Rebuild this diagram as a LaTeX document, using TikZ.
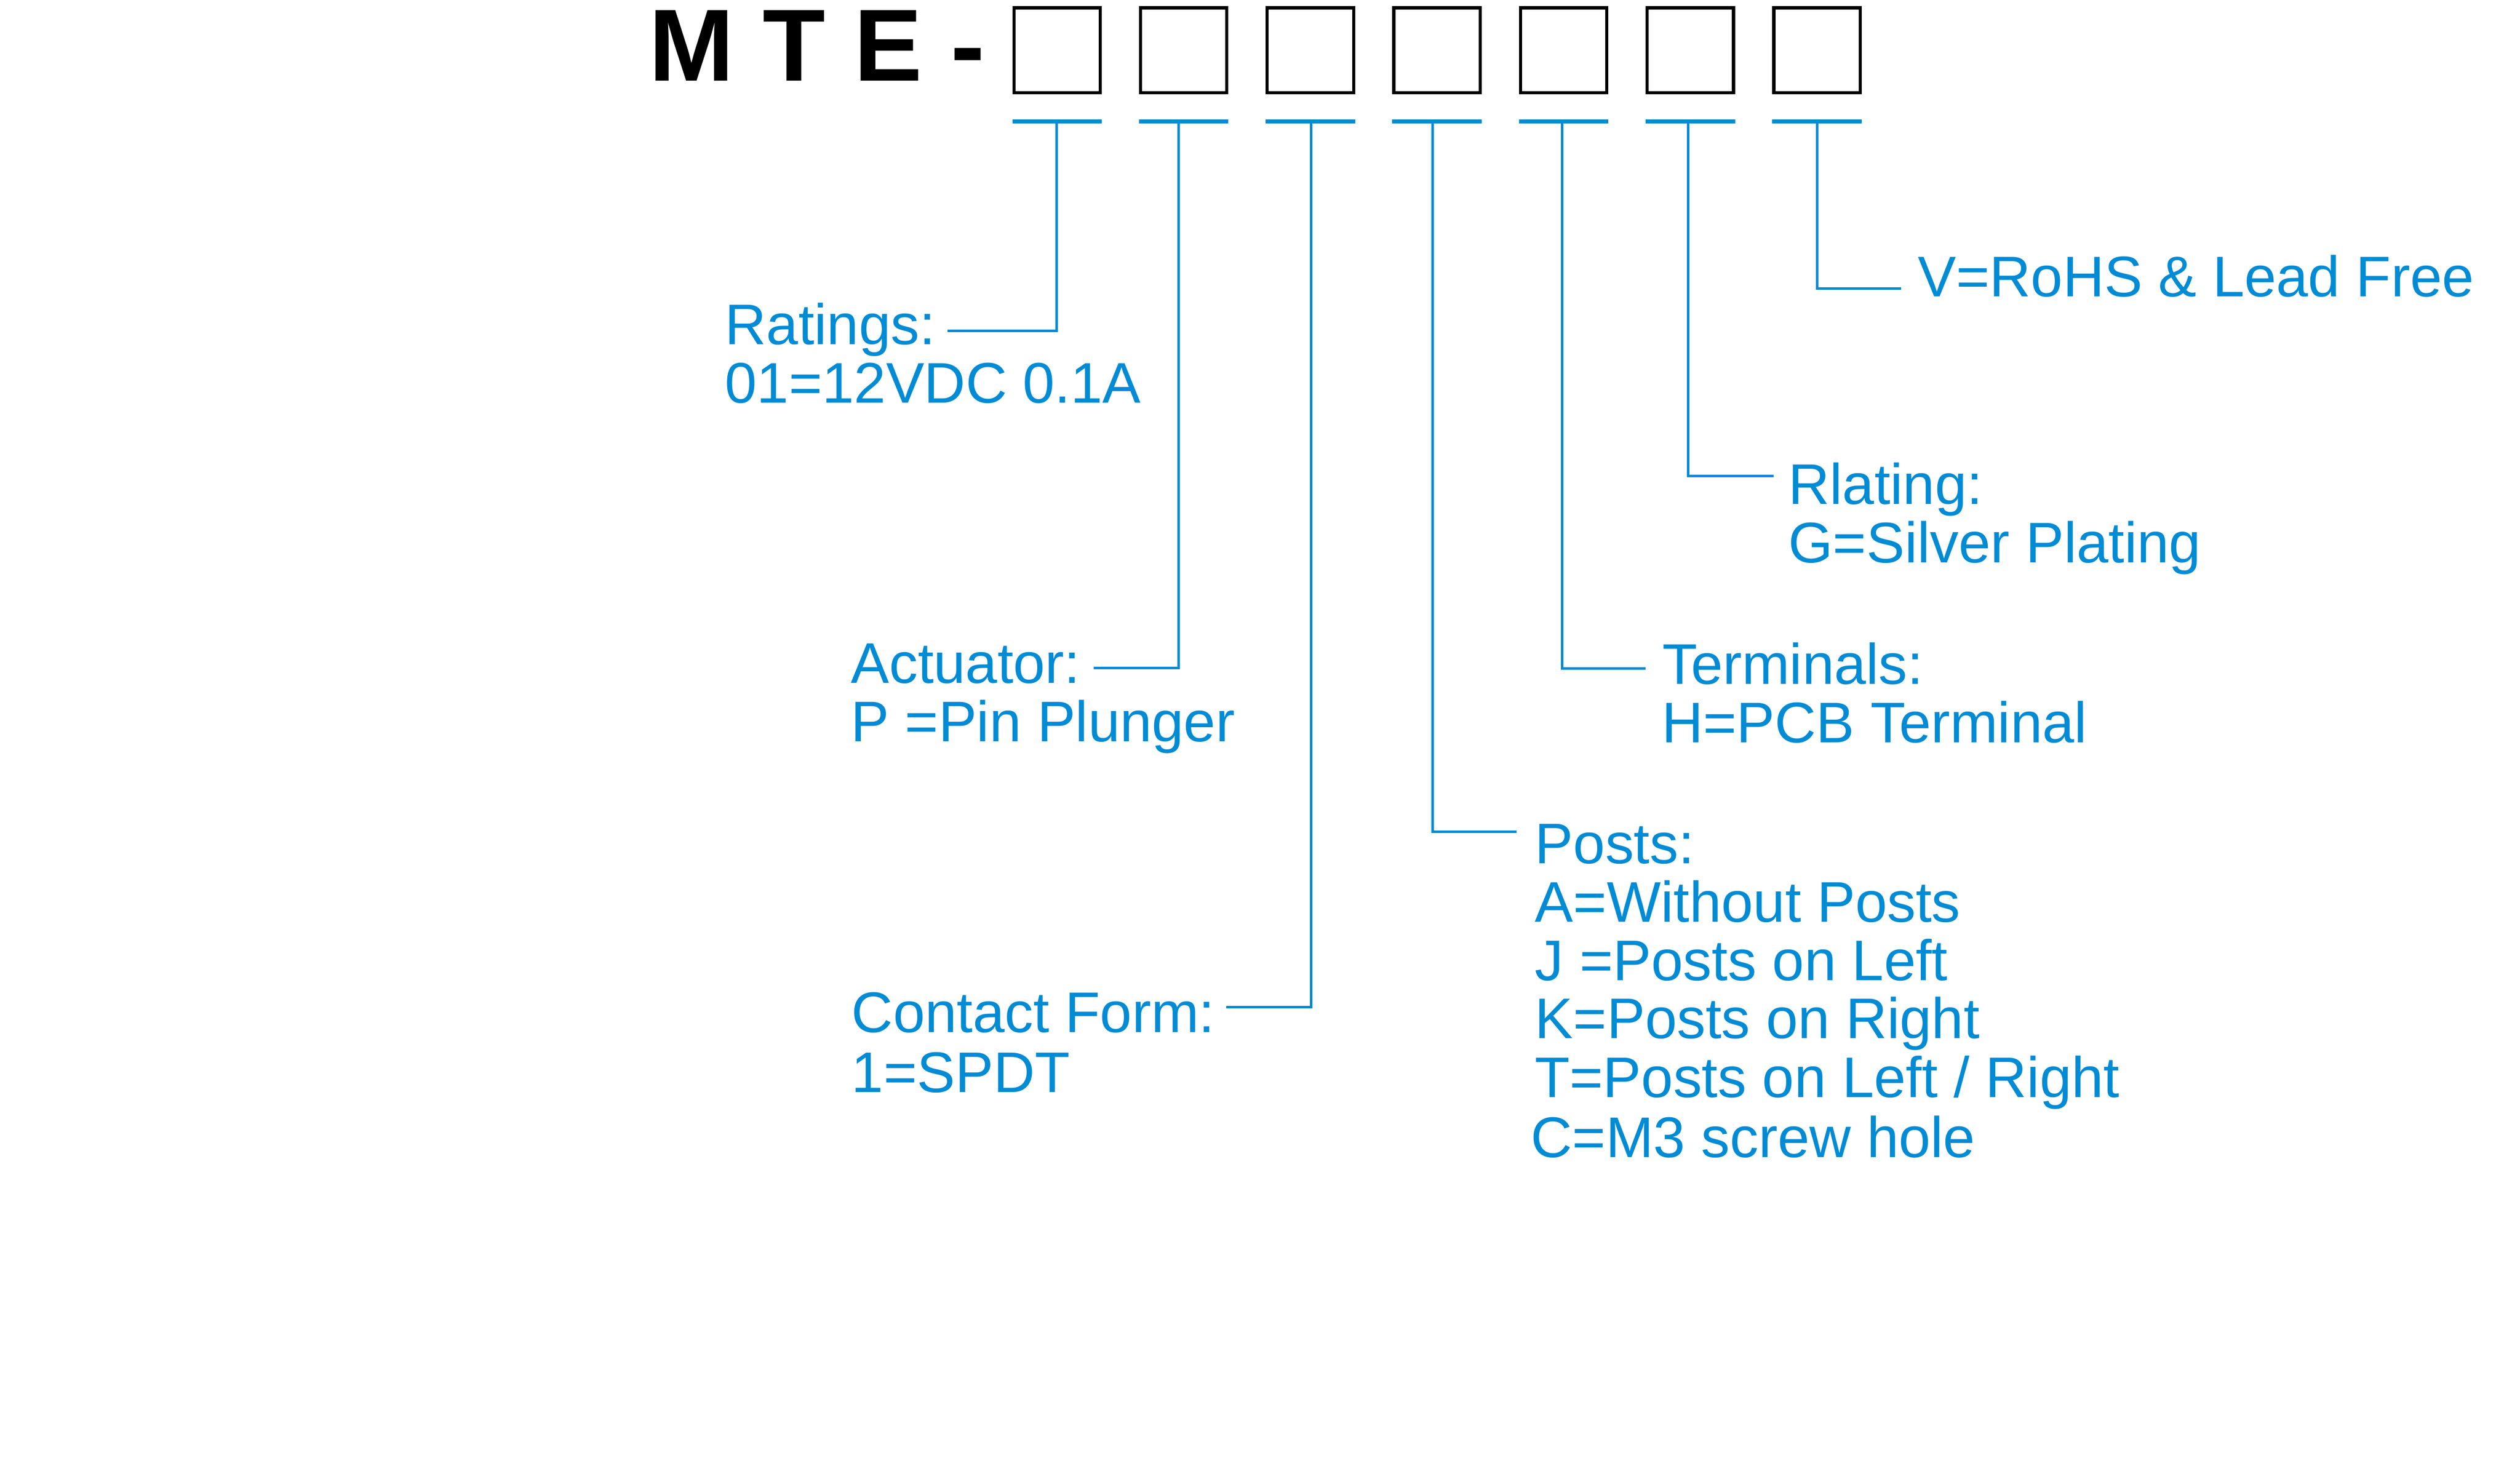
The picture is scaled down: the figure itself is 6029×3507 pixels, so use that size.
\documentclass[tikz,border=0pt]{standalone}
\usepackage{fontspec}
\setmainfont{Liberation Sans}
\definecolor{partblue}{RGB}{0,139,213}

\begin{document}
\begin{tikzpicture}[x=0.01cm, y=-0.01cm,
		codebox/.style={draw, line width=2.13pt, minimum width=2.065cm, minimum height=2.035cm, inner sep=0pt},
		underbar/.style={draw=partblue, line width=2.85pt},
		lead/.style={draw=partblue, line width=1.7pt},
		lbl/.style={anchor=base west, inner sep=0pt, text=partblue, font=\fontsize{39pt}{40pt}\selectfont}]
	\useasboundingbox (0,0) rectangle (6029,3507);
	% part number
	\node[anchor=base west, inner sep=0pt, font=\fontsize{69.7pt}{70pt}\selectfont\bfseries] (code) at (1552,193) {M T E -};
	\foreach \i in {1,...,7} {
		\node[codebox] (box\i) at (2226+303*\i,120.5) {};
		\draw[underbar] ([yshift=-0.6475cm]box\i.south west) -- ([yshift=-0.6475cm]box\i.south east);
	}
	% labels
	\node[lbl] (rat) at (1734,824) {Ratings:};
	\node[lbl] (ratv) at (1734,964) {01=12VDC 0.1A};
	\node[lbl] (act) at (2035,1635) {Actuator:};
	\node[lbl] (actv) at (2035,1774) {P =Pin Plunger};
	\node[lbl] (con) at (2037,2470) {Contact Form:};
	\node[lbl] (conv) at (2037,2613) {1=SPDT};
	\node[lbl] (pst) at (3672,2066) {Posts:};
	\node[lbl] (pstA) at (3672,2206) {A=Without Posts};
	\node[lbl] (pstJ) at (3672,2346) {J =Posts on Left};
	\node[lbl] (pstK) at (3672,2485) {K=Posts on Right};
	\node[lbl] (pstT) at (3671,2626) {T=Posts on Left / Right};
	\node[lbl] (pstC) at (3662,2769) {C=M3 screw hole};
	\node[lbl] (ter) at (3976,1637) {Terminals:};
	\node[lbl] (terv) at (3975,1777) {H=PCB Terminal};
	\node[lbl] (rla) at (4278,1207) {Rlating:};
	\node[lbl] (rlav) at (4278,1346) {G=Silver Plating};
	\node[lbl] (rohs) at (4588,710) {V=RoHS \& Lead Free};
	% leaders
	\coordinate (up1) at (2528,287); \coordinate (end1) at (2267,792);
	\coordinate (up2) at (2820,287); \coordinate (end2) at (2617,1598);
	\coordinate (up3) at (3137,287); \coordinate (end3) at (2934,2410);
	\coordinate (up4) at (3427,287); \coordinate (end4) at (3628,1990);
	\coordinate (up5) at (3737,287); \coordinate (end5) at (3937,1600);
	\coordinate (up6) at (4039,287); \coordinate (end6) at (4243,1139);
	\coordinate (up7) at (4347,287); \coordinate (end7) at (4548,690);
	\foreach \i in {1,...,7}
		\draw[lead] (up\i) |- (end\i);
\end{tikzpicture}
\end{document}
